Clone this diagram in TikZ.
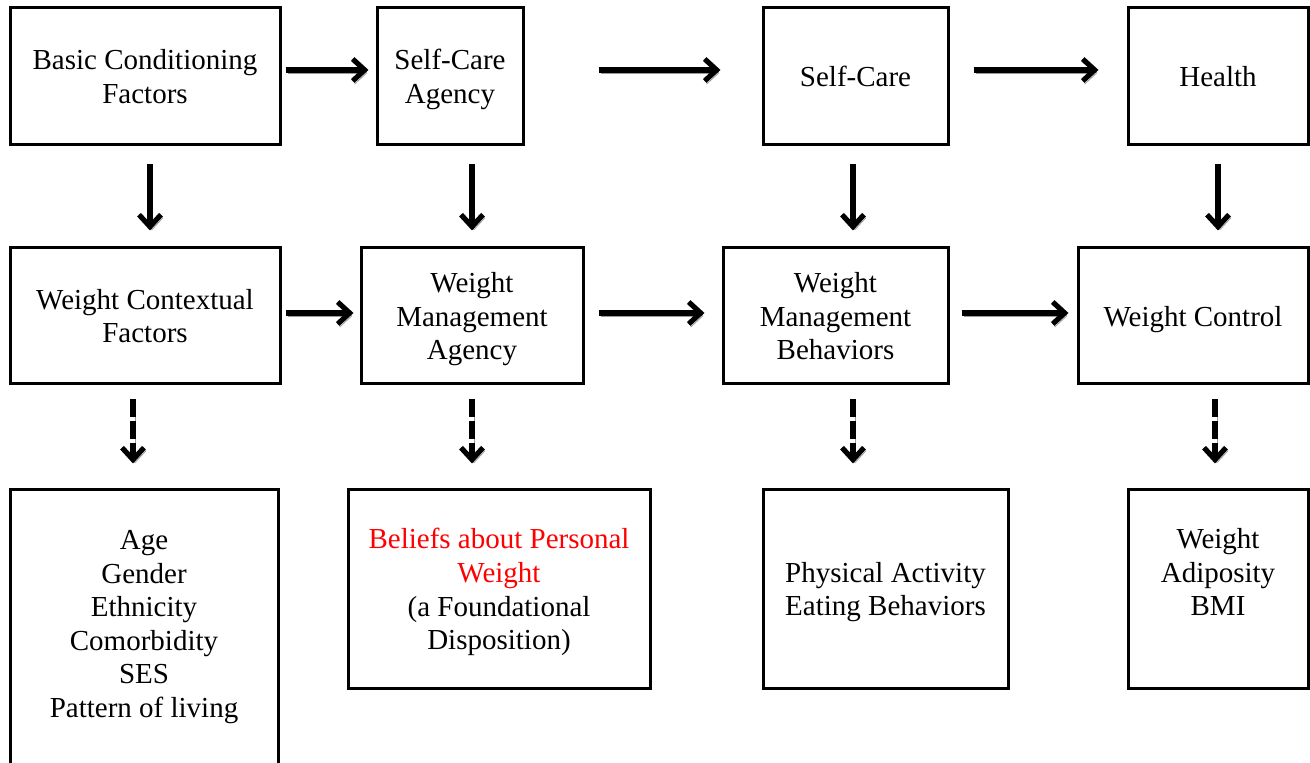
\documentclass[tikz,border=0pt]{standalone}
\usepackage{fontspec}
\setmainfont{Liberation Serif}
\usetikzlibrary{arrows.meta}
\definecolor{ShadowGray}{HTML}{9A9A9A}
\definecolor{BeliefRed}{HTML}{FF0000}

\begin{document}
\begin{tikzpicture}[x=0.5pt,y=-0.5pt,
  box/.style={draw,line width=1.5pt,align=center,inner sep=0pt,text depth=0pt,font=\fontsize{14.5}{16.8}\selectfont},
  flow/.style={line width=2.6pt,-{Straight Barb[length=6pt,width=11pt]},preaction={draw=ShadowGray,transform canvas={xshift=1pt,yshift=-1.5pt}}},
  dflow/.style={flow,dash pattern=on 9pt off 2pt}]
  \useasboundingbox (0,0) rectangle (1310,763);
  % top row
  \node[box,minimum width=135pt,minimum height=68.5pt] (bcf) at (145,76.5) {Basic Conditioning\\Factors};
  \node[box,minimum width=73pt,minimum height=68.5pt] (sca) at (450,76.5) {Self-Care\\Agency};
  \node[box,minimum width=92.5pt,minimum height=68.5pt] (sc) at (855.5,76.5) {Self-Care};
  \node[box,minimum width=90pt,minimum height=68.5pt] (hl) at (1218,76.5) {Health};
  % middle row
  \node[box,minimum width=135pt,minimum height=68pt] (wcf) at (145,316) {Weight Contextual\\Factors};
  \node[box,minimum width=111pt,minimum height=68pt] (wma) at (472,316) {Weight\\Management\\Agency};
  \node[box,minimum width=112.5pt,minimum height=68pt] (wmb) at (835.5,316) {Weight\\Management\\Behaviors};
  \node[box,minimum width=115pt,minimum height=68pt] (wc) at (1193,316) {Weight Control};
  % bottom row
  \node[box,minimum width=134pt,minimum height=145pt,text depth=11pt] (dem) at (144,635) {Age\\Gender\\Ethnicity\\Comorbidity\\SES\\Pattern of living};
  \node[box,minimum width=151pt,minimum height=99pt] (bel) at (499,589) {\textcolor{BeliefRed}{Beliefs about Personal}\\\textcolor{BeliefRed}{Weight}\\(a Foundational\\Disposition)};
  \node[box,minimum width=122.5pt,minimum height=99pt] (phy) at (885.5,589) {Physical Activity\\Eating Behaviors};
  \node[box,minimum width=90pt,minimum height=99pt,text depth=17pt] (anth) at (1218,589) {Weight\\Adiposity\\BMI};
  % horizontal arrows
  \draw[flow,shorten <=2pt,shorten >=3.5pt] ([yshift=3.25pt]bcf.east) -- ([yshift=3.25pt]sca.west);
  \draw[flow,shorten <=37pt,shorten >=20.5pt] ([yshift=3.25pt]sca.east) -- ([yshift=3.25pt]sc.west);
  \draw[flow,shorten <=12pt,shorten >=14pt] ([yshift=3.25pt]sc.east) -- ([yshift=3.25pt]hl.west);
  \draw[flow,shorten <=2pt,shorten >=3pt] ([yshift=1.5pt]wcf.east) -- ([yshift=1.5pt]wma.west);
  \draw[flow,shorten <=7pt,shorten >=8.5pt] ([yshift=1.5pt]wma.east) -- ([yshift=1.5pt]wmb.west);
  \draw[flow,shorten <=6pt,shorten >=4pt] ([yshift=1.5pt]wmb.east) -- ([yshift=1.5pt]wc.west);
  % vertical arrows
  \draw[flow,shorten <=9pt,shorten >=8pt] ([xshift=2.5pt]bcf.south) -- ([xshift=2.5pt]bcf.south |- wcf.north);
  \draw[flow,shorten <=9pt,shorten >=8pt] (wma.north |- sca.south) -- (wma.north);
  \draw[flow,shorten <=9pt,shorten >=8pt] ([xshift=-1.25pt]sc.south) -- ([xshift=-1.25pt]sc.south |- wmb.north);
  \draw[flow,shorten <=9pt,shorten >=8pt] (hl.south) -- (hl.south |- wc.north);
  % dashed arrows
  \draw[dflow,shorten <=7pt,shorten >=12.5pt] ([xshift=-6pt]wcf.south) -- ([xshift=-6pt]wcf.south |- dem.north);
  \draw[dflow,shorten <=7pt,shorten >=12.5pt] (wma.south) -- (wma.south |- bel.north);
  \draw[dflow,shorten <=7pt,shorten >=12.5pt] ([xshift=8.75pt]wmb.south) -- ([xshift=8.75pt]wmb.south |- phy.north);
  \draw[dflow,shorten <=7pt,shorten >=12.5pt] ([xshift=-1.5pt]anth.north |- wc.south) -- ([xshift=-1.5pt]anth.north);
\end{tikzpicture}
\end{document}
